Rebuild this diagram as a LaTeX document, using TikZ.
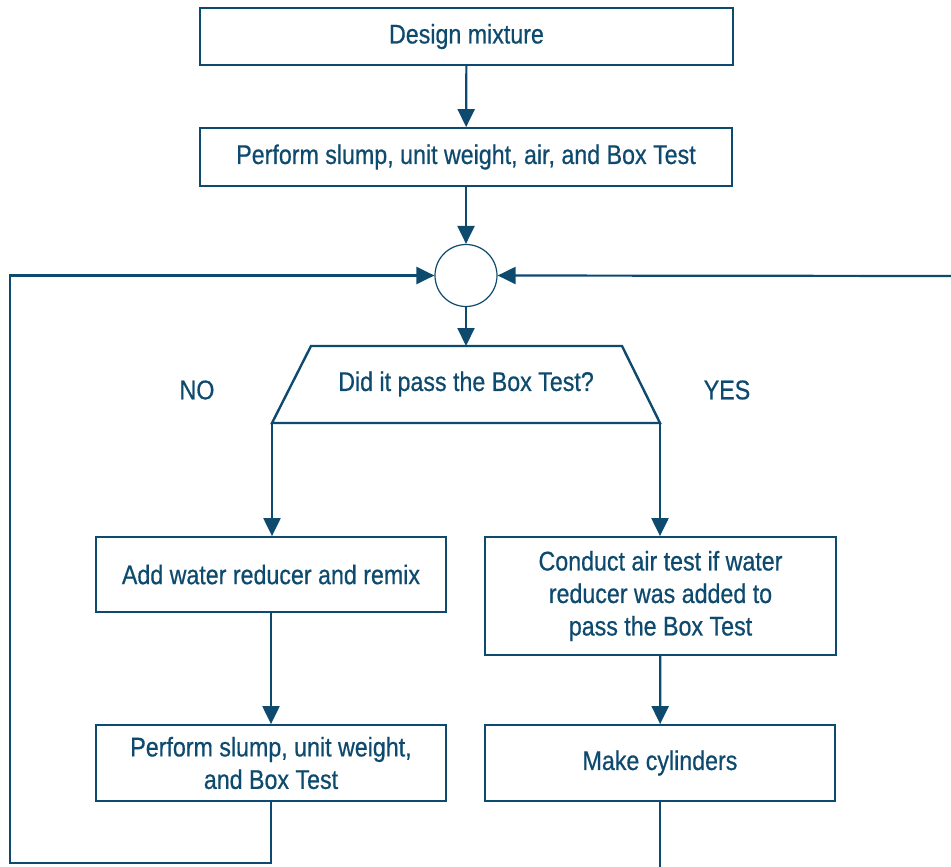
\documentclass[tikz,border=0pt]{standalone}
\usepackage{fontspec}
\setmainfont{Liberation Sans}[FakeStretch=0.86,FakeBold=0.6]
\usetikzlibrary{shapes.geometric,arrows.meta}
\definecolor{navy}{HTML}{0D4A6E}
\begin{document}
\begin{tikzpicture}[x=1pt,y=-1pt,
  every node/.style={text=navy,font=\fontsize{27}{32.5}\selectfont},
  box/.style={draw=navy,line width=1.8pt,rectangle,inner sep=0pt,align=center},
  conn/.style={draw=navy,line width=2.2pt,-{Triangle[width=17pt,length=18pt]}},
  plain/.style={draw=navy,line width=2.2pt}]
\useasboundingbox (0,0) rectangle (951,867);
\node[box,minimum width=533pt,minimum height=57pt] (dm) at (466.5,36.5) {Design mixture};
\node[box,minimum width=532pt,minimum height=58pt] (p1) at (466,157) {Perform slump, unit weight, air, and Box Test};
\node[draw=navy,line width=1.2pt,circle,minimum size=62pt,inner sep=0pt] (circ) at (466,275.5) {};
\coordinate (dtl) at (311,346);
\coordinate (dtr) at (622,346);
\coordinate (dbr) at (660,423);
\coordinate (dbl) at (272,423);
\coordinate (dtop) at (466,346);
\draw[navy,line width=2.4pt,line join=miter] (dtl) -- (dtr) -- (dbr) -- (dbl) -- cycle;
\node (dectext) at (466,384) {Did it pass the Box Test?};
\node (no) at (197,390) {NO};
\node (yes) at (727,390) {YES};
\node[box,minimum width=350pt,minimum height=75pt] (add) at (271,574.5) {Add water reducer and remix};
\node[box,minimum width=351pt,minimum height=118pt] (air) at (660.5,596) {Conduct air test if water\\reducer was added to\\pass the Box Test};
\node[box,minimum width=350pt,minimum height=76pt] (p2) at (271,763) {Perform slump, unit weight,\\and Box Test};
\node[box,minimum width=350pt,minimum height=76pt] (make) at (660,763) {Make cylinders};
\coordinate (ll) at (10,863);
\coordinate (rr) at (951,276);
\coordinate (rb) at (660,867);
\draw[conn] (dm) -- (p1);
\draw[conn] (p1) -- (circ);
\draw[conn] (circ) -- (dtop);
\draw[conn] (dbl) -- (dbl |- add.north);
\draw[conn] (dbr) -- (dbr |- air.north);
\draw[conn] (add) -- (p2);
\draw[conn] (air) -- (make);
\draw[conn] (p2.south) |- (ll) |- (circ.west);
\draw[conn] (rr) -- (circ.east);
\draw[plain] (make.south) -- (rb);
\end{tikzpicture}
\end{document}
